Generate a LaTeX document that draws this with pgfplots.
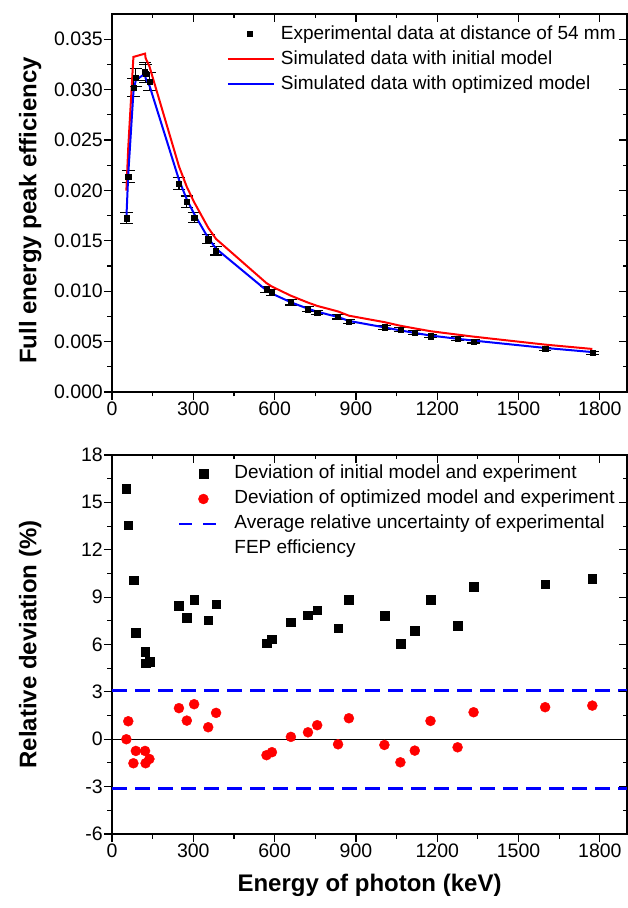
\documentclass[border=0pt]{standalone}
\usepackage{fontspec}
\setmainfont{Liberation Sans}
\usepackage{pgfplots}
\usepackage{pgfplotstable}
\pgfplotsset{compat=1.18}

% E (keV), experimental FEP efficiency, its error, simulated (initial / optimized), deviations (%)
\pgfplotstableread{
E    exp     err     red     blue    devi   devo
53   0.01724 0.00056 0.01998 0.01724 15.87  0.00
60   0.02137 0.00063 0.02427 0.02161 13.55  1.14
79   0.03020 0.00090 0.03324 0.02974 10.06 -1.52
88   0.03120 0.00090 0.03331 0.03097  6.76 -0.74
122  0.03180 0.00090 0.03357 0.03156  5.56 -0.74
124  0.03160 0.00090 0.03312 0.03112  4.82 -1.52
138  0.03080 0.00090 0.03231 0.03042  4.90 -1.25
247  0.02065 0.00060 0.02239 0.02106  8.45  1.97
276  0.01889 0.00055 0.02035 0.01911  7.71  1.18
303  0.01730 0.00050 0.01883 0.01768  8.85  2.22
355  0.01515 0.00045 0.01629 0.01527  7.55  0.76
384  0.01399 0.00040 0.01518 0.01422  8.54  1.67
570  0.01018 0.00030 0.01080 0.01008  6.09 -1.01
590  0.00984 0.00030 0.01046 0.00976  6.34 -0.82
660  0.00889 0.00026 0.00955 0.00890  7.42  0.15
723  0.00822 0.00024 0.00887 0.00826  7.86  0.44
757  0.00789 0.00023 0.00854 0.00796  8.18  0.89
834  0.00746 0.00022 0.00799 0.00744  7.04 -0.32
874  0.00696 0.00020 0.00757 0.00705  8.83  1.33
1005 0.00643 0.00019 0.00693 0.00641  7.82 -0.36
1064 0.00620 0.00018 0.00657 0.00611  6.04 -1.46
1117 0.00590 0.00017 0.00631 0.00586  6.89 -0.72
1175 0.00554 0.00016 0.00603 0.00560  8.83  1.16
1275 0.00531 0.00016 0.00569 0.00528  7.18 -0.51
1334 0.00501 0.00015 0.00549 0.00510  9.66  1.71
1598 0.00428 0.00013 0.00470 0.00437  9.83  2.03
1772 0.00388 0.00012 0.00427 0.00396 10.16  2.13
}\fepdata

\pgfplotsset{
  frame/.style={
    scale only axis, width=515bp, anchor=south west,
    xmin=0, xmax=1900, scaled ticks=false,
    xtick={0,300,600,900,1200,1500,1800},
    minor x tick num=1, minor y tick num=1,
    major tick length=8bp, minor tick length=4.5bp,
    tick style={black, line width=1.1bp},
    axis line style={line width=1.1bp},
    tick label style={font=\fontsize{19.5bp}{22bp}\selectfont},
  },
  outer/.style={frame, tick align=outside, xtick pos=left, ytick pos=left,
    xticklabels={0,300,600,900,1200,1500,1800},
    xticklabel style={inner sep=2bp},
    yticklabel style={inner sep=1bp},
    label style={font=\fontsize{24bp}{28bp}\selectfont\bfseries},
  },
  inner/.style={frame, tick align=inside, xtick pos=right, ytick pos=right,
    xticklabels={}, yticklabels={}, axis line style={draw=none}},
}

\begin{document}
\begin{tikzpicture}
\path[use as bounding box] (0bp,0bp) rectangle (628bp,908bp);

% ---- top: efficiency ----
\begin{axis}[outer, height=378bp, at={(112bp,516bp)},
  ymin=0, ymax=0.0375,
  ytick={0,0.005,0.010,0.015,0.020,0.025,0.030,0.035},
  yticklabels={0.000,0.005,0.010,0.015,0.020,0.025,0.030,0.035},
  ylabel={Full energy peak efficiency},
  ylabel style={at={(axis description cs:-0.159,0.48)}, anchor=center},
  legend image code/.code={\draw[mark repeat=2,mark phase=2,#1] plot coordinates {(0bp,0bp) (22bp,0bp) (46bp,0bp)};},
  legend cell align=left,
  legend style={at={(0.2227,0.974)}, anchor=north west, draw=none, fill=none,
    inner sep=0pt, row sep=5bp, column sep=5bp,
    font=\fontsize{19bp}{22bp}\selectfont,
    nodes={inner sep=1bp, text height=14bp, text depth=4bp}},
]
\addplot[only marks, mark=square*, mark size=2.6bp, black, forget plot,
  error bars/.cd, y dir=both, y explicit,
  error bar style={line width=1.1bp},
  error mark options={rotate=90, mark size=6.3bp, line width=1.1bp}]
  table[x=E, y=exp, y error=err] {\fepdata};
\addplot[red, line width=2bp, forget plot] table[x=E, y=red] {\fepdata};
\addplot[blue, line width=2bp, forget plot] table[x=E, y=blue] {\fepdata};
\addlegendimage{only marks, mark=square*, mark size=2.5bp, black}
\addlegendentry{Experimental data at distance of 54 mm}
\addlegendimage{red, line width=2bp}
\addlegendentry{Simulated data with initial model}
\addlegendimage{blue, line width=2bp}
\addlegendentry{Simulated data with optimized model}
\end{axis}
\begin{axis}[inner, height=378bp, at={(112bp,516bp)},
  ymin=0, ymax=0.0375,
  ytick={0,0.005,0.010,0.015,0.020,0.025,0.030,0.035}]
\end{axis}

% ---- bottom: relative deviation ----
\begin{axis}[outer, height=379bp, at={(112bp,74bp)},
  ymin=-6, ymax=18,
  ytick={-6,-3,0,3,6,9,12,15,18},
  yticklabels={-6,-3,0,3,6,9,12,15,18},
  ylabel={Relative deviation (\%)},
  ylabel style={at={(axis description cs:-0.159,0.5)}, anchor=center},
  xlabel={Energy of photon (keV)},
  xlabel style={at={(axis description cs:0.5,-0.1346)}, anchor=center},
  legend image code/.code={\draw[mark repeat=2,mark phase=2,#1] plot coordinates {(0bp,0bp) (24bp,0bp) (37bp,0bp)};},
  legend cell align=left,
  legend style={at={(0.128,0.9768)}, anchor=north west, draw=none, fill=none,
    inner sep=0pt, row sep=5bp, column sep=15.7bp,
    font=\fontsize{19bp}{22bp}\selectfont,
    nodes={inner sep=1bp, text height=14bp, text depth=4bp}},
]
\addplot[black, line width=1.4bp, forget plot] coordinates {(0,0) (1900,0)};
\addplot[blue, line width=2.6bp, dash pattern=on 15bp off 8bp, forget plot] coordinates {(0,3.1) (1900,3.1)};
\addplot[blue, line width=2.6bp, dash pattern=on 15bp off 8bp, forget plot] coordinates {(0,-3.1) (1900,-3.1)};
\addplot[only marks, mark=square*, mark size=4.3bp, black, forget plot] table[x=E, y=devi] {\fepdata};
\addplot[only marks, mark=*, mark size=5bp, red, forget plot] table[x=E, y=devo] {\fepdata};
\addlegendimage{only marks, mark=square*, mark size=4.3bp, black}
\addlegendentry{Deviation of initial model and experiment}
\addlegendimage{only marks, mark=*, mark size=5bp, red}
\addlegendentry{Deviation of optimized model and experiment}
\addlegendimage{blue, line width=2.6bp, dash pattern=on 13bp off 11bp}
\addlegendentry{Average relative uncertainty of experimental}
\addlegendimage{empty legend}
\addlegendentry{FEP efficiency}
\end{axis}
\begin{axis}[inner, height=379bp, at={(112bp,74bp)},
  ymin=-6, ymax=18,
  ytick={-6,-3,0,3,6,9,12,15,18}]
\end{axis}
\end{tikzpicture}
\end{document}
